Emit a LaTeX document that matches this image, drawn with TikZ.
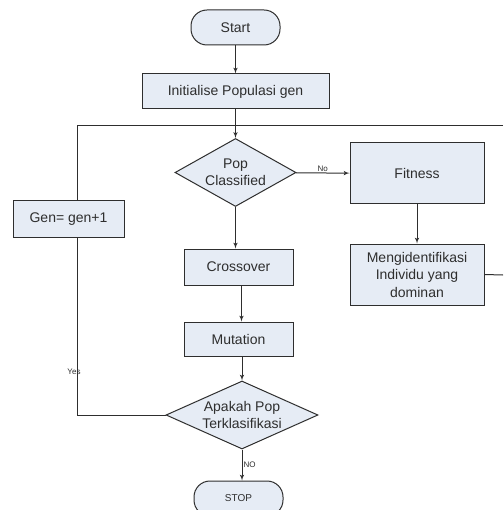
\documentclass[tikz,border=0pt]{standalone}
\usepackage{fontspec}
\setmainfont{Liberation Sans}
\usetikzlibrary{shapes,arrows}
\definecolor{boxfill}{HTML}{E6ECF5}
\definecolor{ink}{HTML}{2E2E2E}
\tikzstyle{block} = [rectangle, draw=ink, fill=boxfill, line width=1pt, text=ink,
    align=center, inner sep=0pt, font=\fontsize{14}{17.5}\selectfont]
\tikzstyle{decision} = [diamond, draw=ink, fill=boxfill, line width=1pt, text=ink,
    align=center, inner sep=0pt, font=\fontsize{14}{17.5}\selectfont]
\tikzstyle{terminal} = [block, rounded corners=16pt, minimum width=89pt, minimum height=35pt]
\tikzstyle{line} = [draw=ink, line width=1pt, -latex']
\tikzstyle{wire} = [draw=ink, line width=1pt]
\tikzstyle{tag} = [text=ink, inner sep=1pt, font=\fontsize{8}{9.6}\selectfont]

\begin{document}
\begin{tikzpicture}[x=1pt, y=-1pt, auto]
	\clip (0,0) rectangle (503,510);
	\fill [white] (0,0) rectangle (503,510);

	% main column
	\node [terminal] (start) at (235.5,27.5) {Start};
	\node [block, minimum width=187pt, minimum height=35pt] (init) at (235.5,91.5) {Initialise Populasi gen};
	\node [decision, minimum width=121pt, minimum height=68pt, aspect=1.78] (pop) at (235.5,172.5) {Pop\\Classified};
	\node [block, minimum width=109pt, minimum height=36pt] (crossover) at (238.5,267) {Crossover};
	\node [block, minimum width=109pt, minimum height=34pt] (mutation) at (238.5,339) {Mutation};
	\node [decision, minimum width=152pt, minimum height=68pt, aspect=2.24] (apakah) at (242,415) {Apakah Pop\\Terklasifikasi};
	\node [terminal, font=\fontsize{10}{12}\selectfont] (stop) at (238.5,498.5) {STOP};

	% right column
	\node [block, minimum width=134pt, minimum height=61pt] (fitness) at (417,173.5) {Fitness};
	\node [block, minimum width=134pt, minimum height=61pt] (ident) at (417,274.5) {Mengidentifikasi\\Individu yang\\dominan};

	% left column
	\node [block, minimum width=111pt, minimum height=36pt] (gen) at (68.5,219) {Gen= gen+1};

	\coordinate (ltop) at (77,126);
	\coordinate (rtop) at (503,126);
	\coordinate (rmid) at (503,275);

	\path [line] (start) -- (init);
	\path [line] (init) -- (pop);
	\path [line] (pop) -- node [tag] {No} (fitness);
	\path [line] (pop.south) -- (pop.south |- crossover.north);
	\path [line] ([xshift=3pt]crossover.south) -- ([xshift=3pt]mutation.north);
	\path [line] (mutation.south -| apakah.north) -- (apakah.north);
	\path [line] (apakah.south) -- node [tag] {NO} (apakah.south |- stop.north);
	\path [line] (fitness) -- (ident);

	% loop back
	\path [wire] (ident.east) -- (rmid);
	\path [wire] (rtop) -- (ltop) -- (ltop |- gen.north);
	\path [wire] (gen.south -| ltop) -- (ltop |- apakah.west) -- (apakah.west);
	\node [tag] (yes) at (74,372) {Yes};
\end{tikzpicture}
\end{document}
